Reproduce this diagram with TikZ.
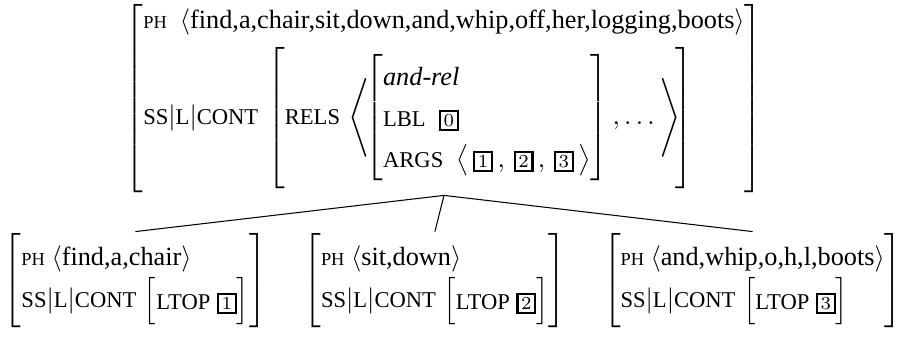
\documentclass[tikz,border=0pt]{standalone}
\usepackage{amsmath}
\usepackage{fontspec}
\setmainfont{Liberation Serif}
\usepackage{tikz-qtree}

\renewcommand{\arraystretch}{1.3}
\newcommand{\avm}[1]{\left[\begin{array}{@{}l@{}}#1\end{array}\right]}
\newcommand{\outeravm}[1]{\renewcommand{\arraystretch}{1.13}\avm{#1}}
\newcommand{\feat}[1]{\text{\fontsize{8.6pt}{10pt}\selectfont #1}}
\newcommand{\phon}{\text{\fontsize{7pt}{8pt}\selectfont PH}}
\newcommand{\synsem}{\feat{SS}|\feat{L}|\feat{CONT}}
\newcommand{\tagnum}[1]{{\setlength{\fboxsep}{1pt}\setlength{\fboxrule}{0.8pt}\fbox{$\scriptstyle#1$}}}
\newcommand{\contstrut}{\rule[-26.3pt]{0pt}{58.15pt}}

\begin{document}
\begin{tikzpicture}[
    level distance=87.6pt,
    sibling distance=13pt,
    every tree node/.style={
        anchor=north, inner sep=0.5pt
    },
    edge from parent/.append style={
        thin
    },
    edge from parent path={
        (\tikzparentnode.south) -- (\tikzchildnode.north)
    }
]
    \useasboundingbox (-169.1pt,0.6pt) rectangle (172.9pt,-127.8pt);

    \Tree [
        .\node (whole) {$\outeravm{\phon\hspace{5pt}\langle\text{find,a,chair,sit,down,and,whip,off,her,logging,boots}\rangle\\[0.7pt]
            \renewcommand{\arraystretch}{1.3}%
            \synsem\hspace{1.8pt}\left[\contstrut\feat{RELS}\,\left\langle\!\avm{\textit{and-rel}\\
                \feat{LBL}\ \ \tagnum{0}\\
                \feat{ARGS}\ \ \big\langle\,\tagnum{1}\,,\,\tagnum{2}\,,\,\tagnum{3}\,\big\rangle},\dots\right\rangle\!\right]}$};
            \node (findchair) {$\avm{\phon\ \langle\text{find,a,chair}\rangle\\
                \synsem\hspace{1.2pt}\avm{\feat{LTOP}\ \tagnum{1}}}$};
            \node (sitdown) {$\avm{\phon\ \langle\text{sit,down}\rangle\\
                \synsem\hspace{1.2pt}\avm{\feat{LTOP}\ \tagnum{2}}}$};
            \node (whipoff) {$\avm{\phon\ \langle\text{and,whip,o,h,l,boots}\rangle\\
                \synsem\hspace{1.2pt}\avm{\feat{LTOP}\ \tagnum{3}}}$};
    ]
\end{tikzpicture}
\end{document}
